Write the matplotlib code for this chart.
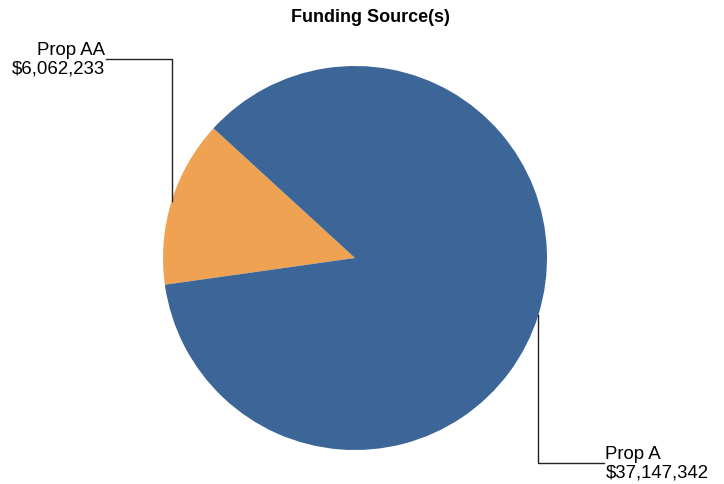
import numpy as np
import matplotlib.pyplot as plt

# Funding by source
labels = ['Prop AA', 'Prop A']
amounts = [6062233, 37147342]
colors = ['#EFA252', '#3B6697']

W, H = 724, 485
fig = plt.figure(figsize=(W / 100, H / 100), dpi=100)
ax = fig.add_axes([0, 0, 1, 1])

cx, cy, r = 355, H - 259, 192
wedges, _ = ax.pie(amounts, colors=colors, startangle=137.5, center=(cx, cy),
                   radius=r, frame=True, wedgeprops=dict(linewidth=0))
ax.set_xlim(0, W)
ax.set_ylim(0, H)
ax.set_aspect('equal')
ax.axis('off')

font = 'Liberation Sans'
# leader lines go from the wedge midpoint straight up/down, then sideways
ends = [(H - 59.5, -66), (H - 464, 66)]
for w, lab, amt, (ly, dx) in zip(wedges, labels, amounts, ends):
    mid = np.deg2rad((w.theta1 + w.theta2) / 2)
    x0 = cx + r * np.cos(mid)
    y0 = cy + r * np.sin(mid)
    ax.plot([x0, x0, x0 + dx], [y0, ly, ly], color='#222222', lw=1)
    ha = 'left' if dx > 0 else 'right'
    ax.text(x0 + dx + (1 if dx > 0 else -1), ly, f'{lab}\n${amt:,}', ha=ha, va='center',
            fontsize=13.4, family=font, color='black', linespacing=1.1)

fig.text(370 / W, 1 - 17 / H, 'Funding Source(s)', ha='center', va='center',
         fontsize=13, fontweight='bold', family=font)

fig.savefig('out.png', dpi=100)
